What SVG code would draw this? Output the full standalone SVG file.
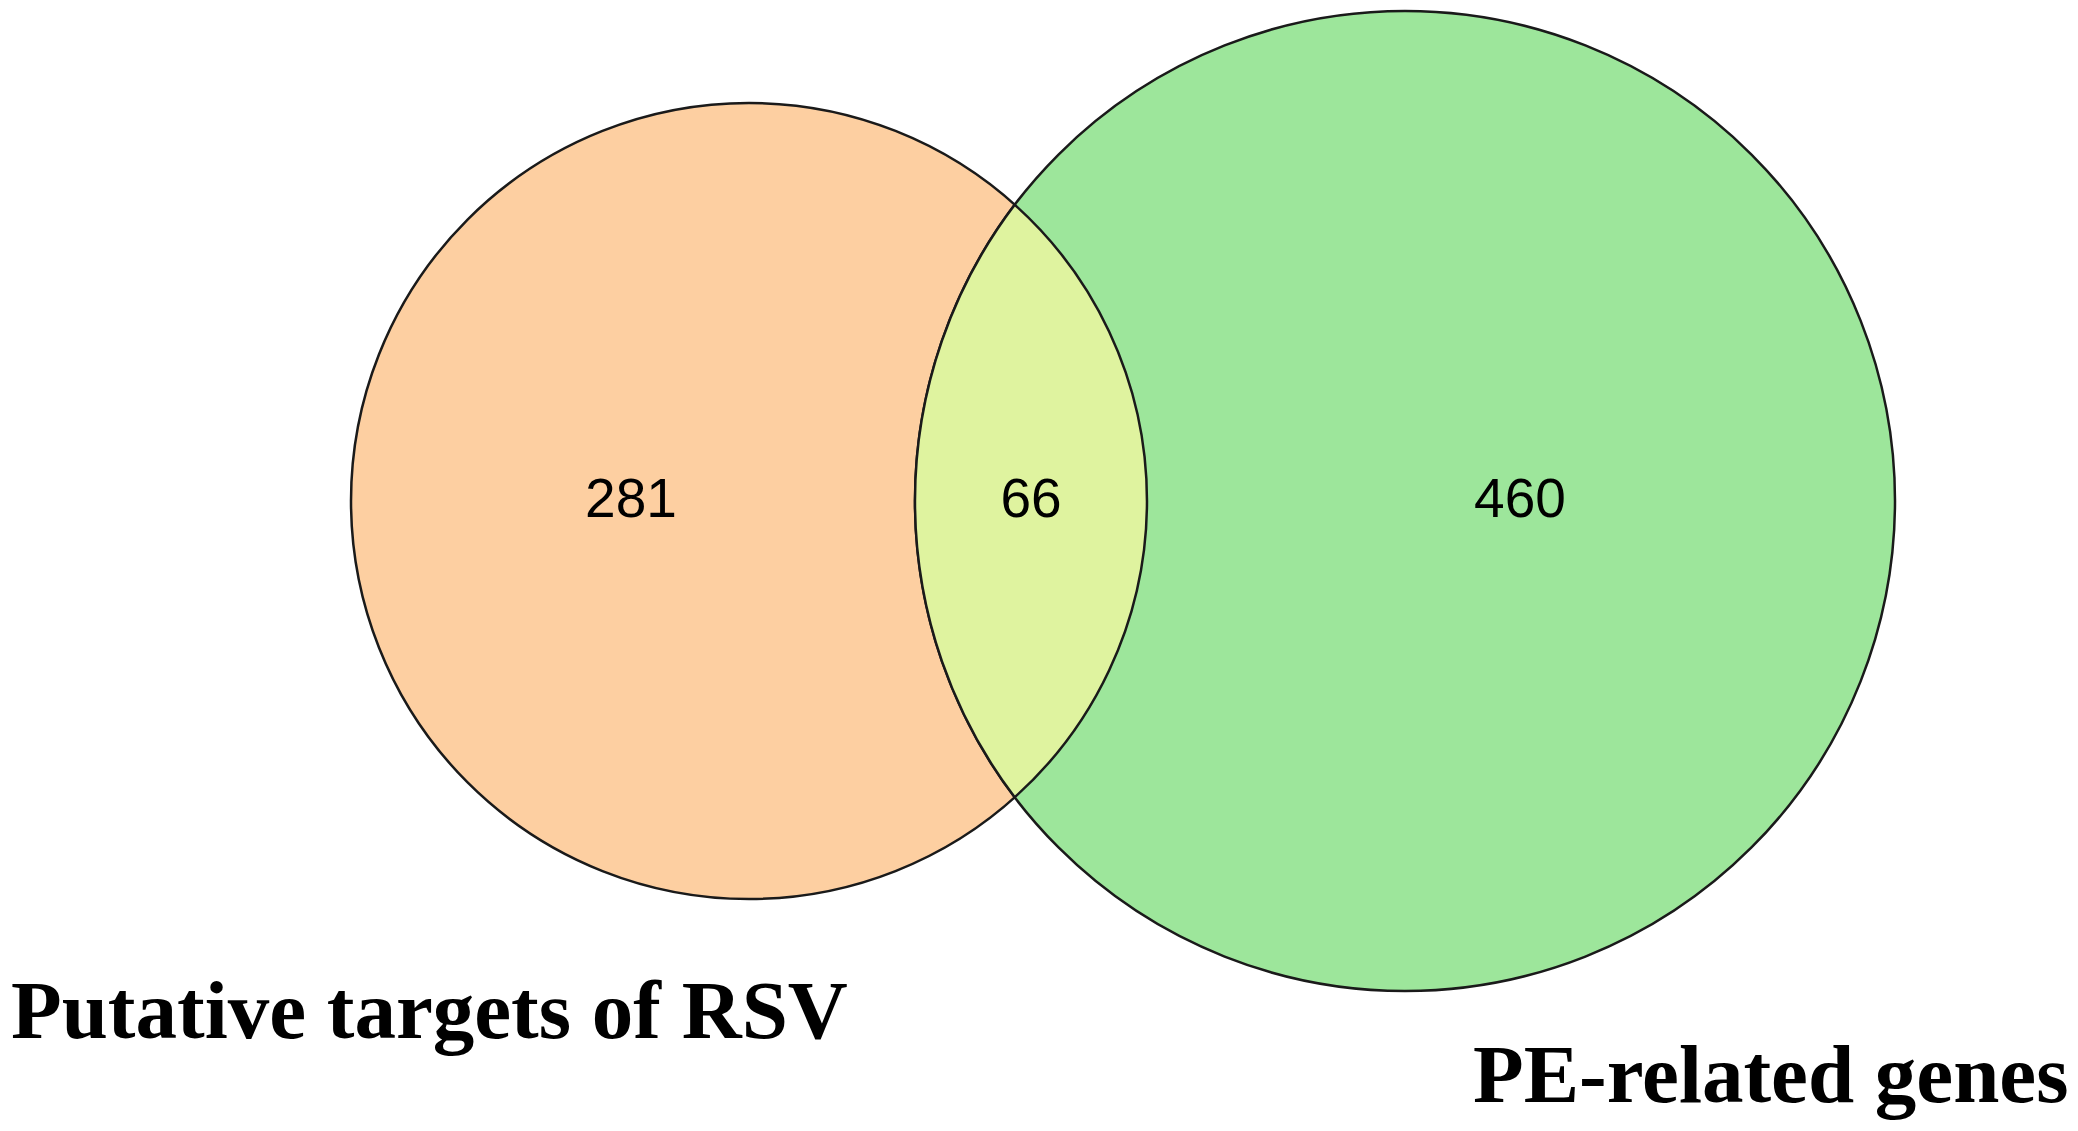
<svg xmlns="http://www.w3.org/2000/svg" width="2078" height="1131" viewBox="0 0 2078 1131">
<style>
.set{stroke:#1a1a1a;stroke-width:2.5}
.num{font-family:"Liberation Sans",Arial,sans-serif;font-size:55px;fill:#000;text-anchor:middle}
.lbl{font-family:"Liberation Serif","Times New Roman",serif;font-size:83px;font-weight:bold;fill:#000}
</style>
<rect width="2078" height="1131" fill="#ffffff"/>
<g id="set-rsv">
<circle class="set" cx="749" cy="501" r="398" fill="#FDCFA1"/>
</g>
<g id="set-pe">
<circle class="set" cx="1405" cy="501" r="490" fill="#9DE69B"/>
</g>
<g id="overlap">
<path class="set" d="M1014.7,204.7 A398,398 0 0 1 1014.7,797.3 A490,490 0 0 1 1014.7,204.7 Z" fill="#DFF39F"/>
</g>
<g id="counts">
<text class="num" x="631" y="517">281</text>
<text class="num" x="1031" y="517">66</text>
<text class="num" x="1520" y="517">460</text>
</g>
<g id="labels">
<text class="lbl" x="11" y="1038">Putative targets of RSV</text>
<text class="lbl" x="1473" y="1102">PE-related genes</text>
</g>
<g id="connectors"></g>
</svg>
